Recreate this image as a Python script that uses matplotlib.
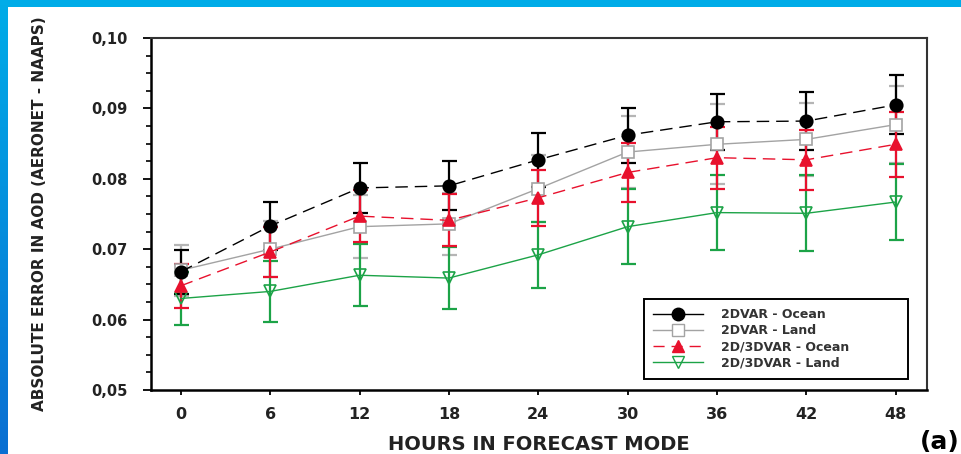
import numpy as np
import matplotlib
matplotlib.use("Agg")
import matplotlib.pyplot as plt
from matplotlib.lines import Line2D
from matplotlib.patches import Rectangle

# forecast hours
hours = [0, 6, 12, 18, 24, 30, 36, 42, 48]

# 2DVAR - Ocean
ocean_2dvar = [0.0668, 0.0733, 0.0787, 0.0790, 0.0827, 0.0862, 0.0881, 0.0882, 0.0905]
ocean_2dvar_err = [0.0031, 0.0034, 0.0035, 0.0035, 0.0038, 0.0039, 0.0040, 0.0041, 0.0042]
# 2DVAR - Land
land_2dvar = [0.0670, 0.0700, 0.0732, 0.0736, 0.0786, 0.0838, 0.0849, 0.0856, 0.0877]
land_2dvar_err = [0.0036, 0.0040, 0.0045, 0.0044, 0.0048, 0.0051, 0.0057, 0.0052, 0.0055]
# 2D/3DVAR - Ocean
ocean_3dvar = [0.0648, 0.0696, 0.0747, 0.0741, 0.0773, 0.0809, 0.0830, 0.0827, 0.0849]
ocean_3dvar_err = [0.0031, 0.0036, 0.0037, 0.0037, 0.0040, 0.0042, 0.0044, 0.0043, 0.0046]
# 2D/3DVAR - Land
land_3dvar = [0.0630, 0.0640, 0.0663, 0.0659, 0.0692, 0.0732, 0.0752, 0.0751, 0.0767]
land_3dvar_err = [0.0038, 0.0043, 0.0044, 0.0044, 0.0047, 0.0053, 0.0053, 0.0054, 0.0054]

ytick_vals = [0.05, 0.06, 0.07, 0.08, 0.09, 0.10]
ytick_labels = ["0,05", "0.06", "0.07", "0.08", "0,09", "0,10"]

labels = ["2DVAR - Ocean", "2DVAR - Land", "2D/3DVAR - Ocean", "2D/3DVAR - Land"]

RED = "#e8112d"
GREEN = "#1ca347"
GREY = "#a3a3a3"

plt.rcParams['font.family'] = ['DejaVu Sans']
plt.rcParams['font.weight'] = 'bold'

fig = plt.figure(figsize=(9.61, 4.54), dpi=100)
fig.patch.set_facecolor("#00ace8")
# white slide area
fig.patches.append(Rectangle((8/961, 0), 1, (454-7)/454, transform=fig.transFigure,
	facecolor="white", edgecolor="none", zorder=-10))
# left blue strip, darker toward the bottom
strip = fig.add_axes([0, 0, 8/961, 1])
grad = np.linspace(0, 1, 100).reshape(-1, 1)
strip.imshow(grad, aspect="auto", cmap=matplotlib.colors.LinearSegmentedColormap.from_list(
	"b", ["#00ace8", "#0a6fd2"]))
strip.axis("off")

ax = fig.add_axes([151/961, 64/454, 776/961, 352/454])
ax.set_facecolor("white")

def draw(y, err, color, ecolor, ls, marker, mfc, ms, z):
	ax.errorbar(hours, y, yerr=err, fmt="none", ecolor=ecolor, elinewidth=1.6,
		capsize=5.4, capthick=1.6, zorder=z)
	ax.plot(hours, y, color=color, ls=ls, lw=1.0, marker=marker, ms=ms,
		mfc=mfc, mec=color, mew=1.2, zorder=z + 10, dashes=(9, 5) if ls == "--" else (None, None))

draw(land_2dvar, land_2dvar_err, GREY, "#b5b5b5", "-", "s", "white", 8, 2)
draw(ocean_2dvar, ocean_2dvar_err, "black", "black", "--", "o", "black", 9, 3)
draw(land_3dvar, land_3dvar_err, GREEN, GREEN, "-", "v", "none", 8.5, 4)
draw(ocean_3dvar, ocean_3dvar_err, RED, RED, "--", "^", RED, 8.5, 5)

ax.set_xlim(-2, 50.1)
ax.set_ylim(0.05, 0.10)
ax.set_xticks(hours)
ax.set_xticklabels([str(h) for h in hours])
ax.set_yticks(ytick_vals)
ax.set_yticklabels(ytick_labels)
ax.set_yticks(np.arange(0.05, 0.1001, 0.0025), minor=True)

ax.tick_params(axis="x", length=3.4, width=1.3, pad=9, labelsize=11.5, direction="out")
ax.tick_params(axis="y", which="major", length=6, width=1.3, pad=11, labelsize=10.5, direction="out")
ax.tick_params(axis="y", which="minor", length=3.6, width=1.2, direction="out")
for lab in ax.get_xticklabels() + ax.get_yticklabels():
	lab.set_fontweight("bold")
	lab.set_color("#222222")

for s in ["left", "bottom"]:
	ax.spines[s].set_linewidth(1.8)
for s in ["top", "right"]:
	ax.spines[s].set_linewidth(1.5)
	ax.spines[s].set_color("#333333")

ax.set_xlabel("HOURS IN FORECAST MODE", fontsize=14, fontweight="bold", color="#222222", va="center")
ax.xaxis.set_label_coords(0.5, (390-445)/352)
ax.set_ylabel("ABSOLUTE ERROR IN AOD (AERONET - NAAPS)", fontsize=11, fontweight="bold",
	color="#222222", va="center")
ax.yaxis.set_label_coords((40-151)/776, 0.5)

# legend handles without the error bars
handles = [
	Line2D([], [], color="black", lw=1.0, marker="o", ms=9, mfc="black", mec="black"),
	Line2D([], [], color=GREY, lw=1.0, marker="s", ms=8, mfc="white", mec=GREY),
	Line2D([], [], color=RED, lw=1.0, ls="--", dashes=(8, 5), marker="^", ms=8.5, mfc=RED, mec=RED),
	Line2D([], [], color=GREEN, lw=1.0, marker="v", ms=8.5, mfc="none", mec=GREEN),
]
# legend box stretched over the same span as the original
x0 = (644-151)/776
x1 = (908-151)/776
y0 = (390-379)/352
leg = ax.legend(handles, labels, loc="lower left", bbox_to_anchor=(x0, y0, x1 - x0, 0.2),
	mode="expand", borderaxespad=0, fontsize=9, handlelength=4.0, handletextpad=1.4,
	labelspacing=0.25, fancybox=False, framealpha=1, edgecolor="black", borderpad=0.75)
leg.get_frame().set_linewidth(1.4)
for t in leg.get_texts():
	t.set_fontweight("bold")
	t.set_color("#333333")

fig.text(920/961, (454-442)/454, "(a)", fontsize=18, fontweight="bold", ha="left", va="center")

fig.savefig("out.png", dpi=100, facecolor=fig.get_facecolor())
